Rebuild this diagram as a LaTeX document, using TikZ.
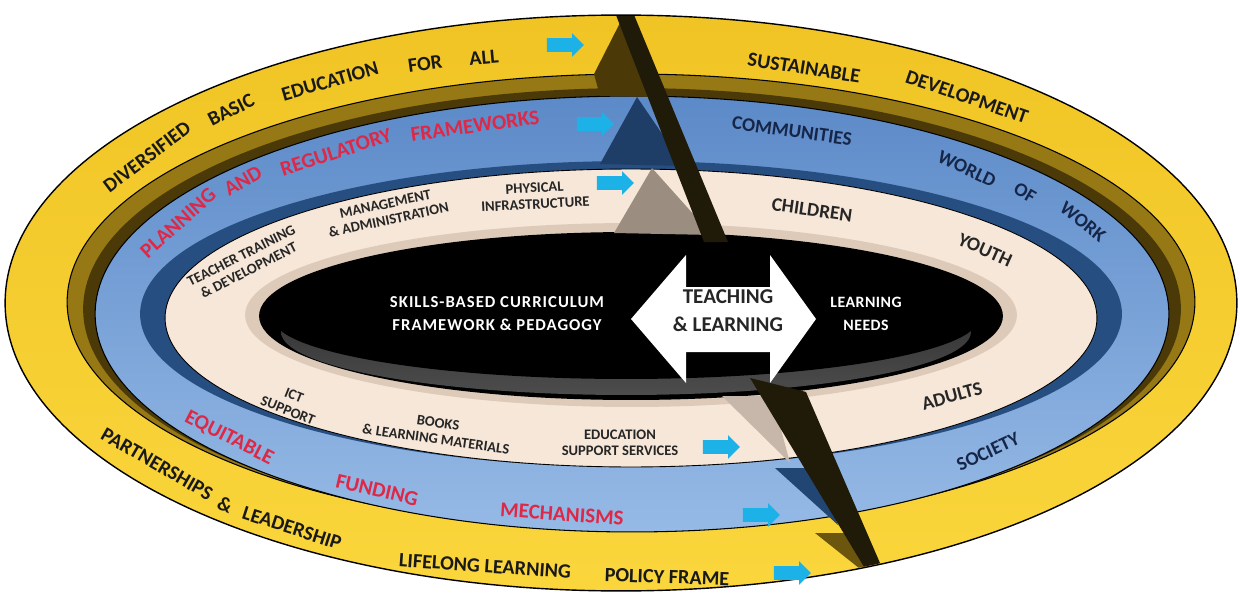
\documentclass[tikz,border=0pt]{standalone}
\usepackage{fontspec}
\setmainfont{Carlito}
\usetikzlibrary{shapes.arrows}
\definecolor{yelA}{RGB}{240,196,36}
\definecolor{yelB}{RGB}{250,214,60}
\definecolor{oliveA}{RGB}{150,120,20}
\definecolor{oliveB}{RGB}{75,58,8}
\definecolor{blueA}{RGB}{92,138,200}
\definecolor{blueB}{RGB}{150,186,230}
\definecolor{blueW}{RGB}{38,78,128}
\definecolor{creamA}{RGB}{246,231,216}
\definecolor{creamB}{RGB}{222,202,184}
\definecolor{cyanA}{RGB}{28,178,232}
\definecolor{redT}{RGB}{222,40,72}
\definecolor{navyT}{RGB}{22,38,72}
\definecolor{cutC}{RGB}{32,26,8}
\begin{document}
\begin{tikzpicture}[x=0.02cm,y=-0.02cm,
 ytxt/.style={font=\fontsize{11.5}{12}\selectfont\bfseries, text=black!90, inner sep=0pt},
 rtxt/.style={font=\fontsize{12}{13}\selectfont\bfseries, text=redT, inner sep=0pt},
 ntxt/.style={font=\fontsize{11}{12}\selectfont\bfseries, text=navyT, inner sep=0pt},
 ctxt/.style={font=\fontsize{8.3}{9.3}\selectfont\bfseries, text=black!85, inner sep=0pt, align=center},
 cbig/.style={font=\fontsize{11}{12}\selectfont\bfseries, text=black!85, inner sep=0pt},
 wtxt/.style={font=\fontsize{9.5}{13}\selectfont\bfseries\addfontfeature{LetterSpace=6}, text=white, inner sep=0pt, align=center},
 ttxt/.style={font=\fontsize{12}{16}\selectfont\bfseries, text=black!85, inner sep=0pt, align=center},
 cyarrow/.style={single arrow, fill=cyanA, inner xsep=0pt, inner ysep=0.13cm, minimum height=0.74cm, single arrow head extend=0.1cm},
]
\useasboundingbox (0,0) rectangle (1240,601);
\fill[white] (0,0) rectangle (1240,601);
% outer yellow ring
\draw[line width=0.8pt, top color=yelA, bottom color=yelB] (621,303) ellipse [x radius=12.32cm, y radius=5.76cm];
% olive wall
\draw[line width=0.6pt, fill=oliveA] (631,302) ellipse [x radius=11.28cm, y radius=4.56cm];
\fill[oliveB] (632,309) ellipse [x radius=10.98cm, y radius=4.42cm];
% blue ring
\draw[line width=0.6pt, top color=blueA, bottom color=blueB] (632,314) ellipse [x radius=10.74cm, y radius=4.36cm];
% blue wall
\fill[blueW] (631,314) ellipse [x radius=9.82cm, y radius=3.06cm];
% cream ring
\draw[line width=0.5pt, fill=creamA] (631,318) ellipse [x radius=9.32cm, y radius=2.98cm];
\fill[creamB] (631,315) ellipse [x radius=7.72cm, y radius=1.84cm];
% black centre
\fill[black] (631,316) ellipse [x radius=7.44cm, y radius=1.68cm];
\fill[top color=gray!30!black, bottom color=gray!60!black] (626,332) ellipse [x radius=6.9cm, y radius=1.26cm];
\fill[black] (626,318) ellipse [x radius=7.06cm, y radius=1.22cm];

\begin{scope}
\clip (621,303) ellipse [x radius=12.30cm, y radius=5.74cm];
% upper cut
\fill[oliveB] (623,17) -- (594,74) -- (600,96) -- (660,97) -- cycle;
\fill[blueW!80!black] (637,97) -- (600,164) -- (684,166) -- cycle;
\fill[creamB!70!black] (652,168) -- (614,233) -- (712,235) -- cycle;
\fill[cutC] (614,10) -- (632,10) -- (728,242) -- (704,242) -- cycle;
% lower cut
\fill[creamB!75!gray] (722,396) -- (790,463) -- (772,396) -- cycle;
\fill[blueW!90!black] (775,468) -- (838,525) -- (815,468) -- cycle;
\fill[oliveB!80!yelA] (815,533) -- (884,588) -- (866,533) -- cycle;
\fill[cutC] (750,378) -- (806,392) -- (896,600) -- (884,600) -- cycle;
\end{scope}

% double arrow
\fill[white] (631,319) -- (686,255) -- (686,287) -- (770,287) -- (770,255) -- (816,319)
  -- (770,383) -- (770,352) -- (686,352) -- (686,383) -- cycle;
\node[ttxt] (tl) at (728,311) {TEACHING\\\& LEARNING};

% centre texts
\node[wtxt] (sk) at (497,314) {SKILLS-BASED CURRICULUM\\FRAMEWORK \& PEDAGOGY};
\node[wtxt, font=\fontsize{9}{13}\selectfont\bfseries\addfontfeature{LetterSpace=3}] (ln) at (866,314) {LEARNING\\NEEDS};

% yellow ring texts
\node[ytxt, rotate=37] (y1) at (147,157) {DIVERSIFIED};
\node[ytxt, rotate=27] (y2) at (231,110) {BASIC};
\node[ytxt, rotate=16] (y3) at (330,81) {EDUCATION};
\node[ytxt, rotate=8] (y4) at (425,64) {FOR};
\node[ytxt, rotate=5] (y5) at (484,58) {ALL};
\node[cyarrow] (a1) at (562,45) {};
\node[ytxt, rotate=-9] (y6) at (804,68) {SUSTAINABLE};
\node[ytxt, rotate=-19] (y7) at (967,97) {DEVELOPMENT};
\node[ytxt, rotate=-30] (y8) at (157,464) {PARTNERSHIPS};
\node[ytxt, rotate=-22] (y9) at (225,505) {\&};
\node[ytxt, rotate=-18] (y10) at (292,528) {LEADERSHIP};
\node[ytxt, rotate=-4] (y11) at (485,566) {LIFELONG LEARNING};
\node[ytxt, rotate=-2] (y12) at (667,577) {POLICY FRAME};
\node[cyarrow] (a2) at (789,573) {};

% blue ring texts
\node[rtxt, rotate=42] (b1) at (178,223) {PLANNING};
\node[rtxt, rotate=30] (b2) at (243,181) {AND};
\node[rtxt, rotate=18] (b3) at (336,152) {REGULATORY};
\node[rtxt, rotate=8] (b4) at (475,126) {FRAMEWORKS};
\node[cyarrow] (a3) at (592,124) {};
\node[ntxt, rotate=-8] (b5) at (792,131) {COMMUNITIES};
\node[ntxt, rotate=-25] (b6) at (967,169) {WORLD};
\node[ntxt, rotate=-30] (b7) at (1025,193) {OF};
\node[ntxt, rotate=-38] (b8) at (1083,222) {WORK};
\node[rtxt, rotate=-27] (b9) at (229,438) {EQUITABLE};
\node[rtxt, rotate=-13] (b10) at (377,490) {FUNDING};
\node[rtxt, rotate=-4] (b11) at (562,514) {MECHANISMS};
\node[cyarrow] (a4) at (758,515) {};
\node[ntxt, rotate=25] (b12) at (988,452) {SOCIETY};

% cream ring texts
\node[ctxt, rotate=27] (c1) at (245,263) {TEACHER TRAINING\\\& DEVELOPMENT};
\node[ctxt, rotate=12] (c2) at (387,212) {MANAGEMENT\\\& ADMINISTRATION};
\node[ctxt, rotate=3] (c3) at (535,196) {PHYSICAL\\INFRASTRUCTURE};
\node[cyarrow] (a5) at (612,183) {};
\node[cbig, rotate=-8] (c4) at (812,210) {CHILDREN};
\node[cbig, rotate=-24] (c5) at (985,250) {YOUTH};
\node[ctxt, rotate=-22] (c6) at (291,403) {ICT\\SUPPORT};
\node[ctxt, rotate=-8] (c7) at (437,431) {BOOKS\\\& LEARNING MATERIALS};
\node[ctxt] (c8) at (620,443) {EDUCATION\\SUPPORT SERVICES};
\node[cyarrow] (a6) at (718,447) {};
\node[cbig, rotate=15] (c9) at (952,396) {ADULTS};
\end{tikzpicture}
\end{document}
